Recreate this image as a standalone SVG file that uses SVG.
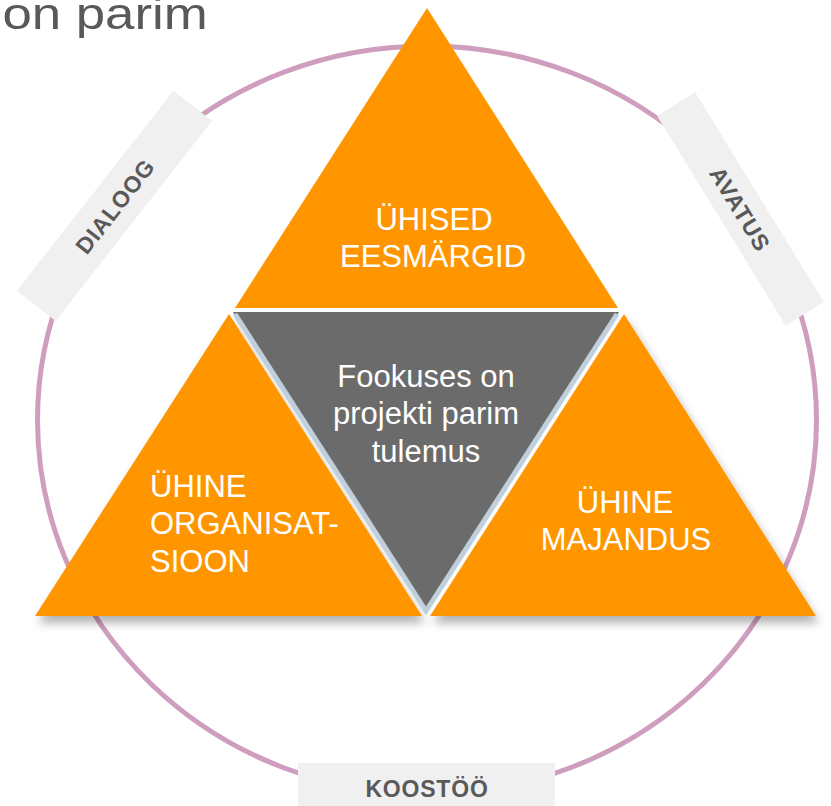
<svg xmlns="http://www.w3.org/2000/svg" width="831" height="806" viewBox="0 0 831 806">
  <defs>
    <filter id="shadow" x="-10%" y="-10%" width="125%" height="130%">
      <feDropShadow dx="3" dy="7" stdDeviation="5" flood-color="#000" flood-opacity="0.3"/>
    </filter>
  </defs>
  <style>
    .lbl-box { fill: #f0f0f0; }
    .lbl { font-family: "Liberation Sans", Arial, sans-serif; font-weight: bold; font-size: 23px; fill: #595959; text-anchor: middle; letter-spacing: 0.8px; }
    .orange { fill: #ff9600; }
    .wt { font-family: "Liberation Sans", Arial, sans-serif; font-size: 31px; fill: #ffffff; }
    .title { font-family: "Liberation Sans", Arial, sans-serif; font-size: 44px; fill: #595959; }
  </style>
  <rect width="831" height="806" fill="#ffffff"/>

  <text class="title" x="2" y="29" transform="scale(1.2,1)">on parim</text>

  <ellipse id="ring" cx="427" cy="420" rx="389.5" ry="374" fill="none" stroke="#cf9dbd" stroke-width="5"/>

  <g id="dialoog" transform="translate(114.5,205.8) rotate(-52)">
    <rect class="lbl-box" x="-127" y="-24.5" width="254" height="49"/>
    <text class="lbl" x="0" y="9">DIALOOG</text>
  </g>
  <g id="avatus" transform="translate(740.4,208.8) rotate(58.5)">
    <rect class="lbl-box" x="-123" y="-22.4" width="246" height="44.8"/>
    <text class="lbl" x="0" y="8.5">AVATUS</text>
  </g>
  <g id="koostoo">
    <rect class="lbl-box" x="298" y="763" width="257" height="50"/>
    <text class="lbl" x="427" y="797">KOOSTÖÖ</text>
  </g>

  <g id="top-triangle">
    <polygon class="orange" points="427,8 618,308 235,308"/>
    <text class="wt" text-anchor="middle" x="434" y="230">ÜHISED</text>
    <text class="wt" text-anchor="middle" x="433" y="267">EESMÄRGID</text>
  </g>

  <g id="left-triangle">
    <polygon class="orange" points="229,314 422,616 35,616" filter="url(#shadow)"/>
    <text class="wt" x="150" y="497">ÜHINE</text>
    <text class="wt" x="150" y="534">ORGANISAT-</text>
    <text class="wt" x="150" y="571.5">SIOON</text>
  </g>

  <g id="right-triangle">
    <polygon class="orange" points="624,314 816,616 430,616" filter="url(#shadow)"/>
    <text class="wt" text-anchor="middle" x="625" y="513">ÜHINE</text>
    <text class="wt" text-anchor="middle" x="626" y="550">MAJANDUS</text>
  </g>

  <g id="center-triangle">
    <polygon points="233,312 619,312 426,612" fill="#6b6b6b"/>
    <text class="wt" text-anchor="middle" x="426" y="387">Fookuses on</text>
    <text class="wt" text-anchor="middle" x="426" y="424">projekti parim</text>
    <text class="wt" text-anchor="middle" x="426" y="461.5">tulemus</text>
  </g>

  <g id="connectors">
    <polyline points="235,314 426,611 617,314" fill="none" stroke="#bfcfdb" stroke-width="5" stroke-linejoin="miter"/>
  </g>
</svg>
